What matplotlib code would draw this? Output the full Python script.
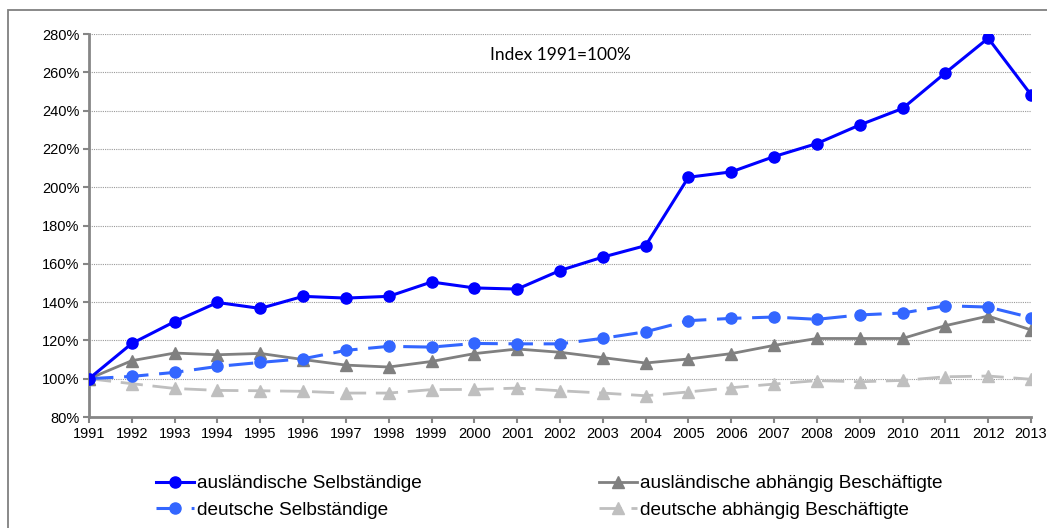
import matplotlib
matplotlib.use("Agg")
import matplotlib.pyplot as plt
from matplotlib.patches import Rectangle

plt.rcParams['font.family'] = ['Liberation Sans', 'DejaVu Sans']

jahre = list(range(1991, 2014))

ausl_selb = [100, 118.4, 129.8, 139.8, 136.7, 143.0, 142.1, 143.0, 150.5, 147.4, 146.8,
             156.5, 163.5, 169.5, 205.2, 208.0, 216.0, 222.8, 232.5, 241.1, 259.7, 277.8, 248.3]
dt_selb = [100, 101.2, 103.3, 106.4, 108.5, 110.4, 114.8, 116.9, 116.5, 118.4, 118.2,
           118.2, 121.1, 124.5, 130.3, 131.5, 132.2, 131.0, 133.3, 134.3, 138.1, 137.4, 131.9]
ausl_abh = [100, 109.4, 113.4, 112.5, 113.2, 110.0, 107.1, 106.1, 109.0, 113.1, 115.5,
            113.8, 111.0, 108.2, 110.3, 113.1, 117.4, 121.0, 121.0, 121.0, 127.7, 132.7, 125.5]
dt_abh = [100, 97.4, 94.9, 93.9, 93.7, 93.4, 92.5, 92.5, 94.3, 94.4, 95.1,
          93.7, 92.5, 91.1, 93.1, 95.3, 97.2, 99.0, 98.4, 99.1, 101.0, 101.4, 99.7]

y_ticks = list(range(80, 281, 20))

fig = plt.figure(figsize=(10.47, 5.28), dpi=100)
ax = fig.add_axes([89/1047, 1-417/528, (1031-89)/1047, (417-34)/528])

# rahmen um das diagramm (rechts und unten abgeschnitten)
fig.patches.append(Rectangle((8/1047, -0.1), 1.2, 1-10/528+0.1, transform=fig.transFigure,
                             fill=False, edgecolor='#808080', linewidth=1.3))

ax.plot(jahre, ausl_selb, color='#0000FF', lw=2.2, marker='o', ms=8,
        label='ausländische Selbständige', zorder=5)
ax.plot(jahre, dt_selb, color='#3366FF', lw=2.2, marker='o', ms=8, dashes=(8, 3.5),
        label='deutsche Selbständige', zorder=4)
ax.plot(jahre, ausl_abh, color='#808080', lw=2.0, marker='^', ms=8,
        label='ausländische abhängig Beschäftigte', zorder=3)
ax.plot(jahre, dt_abh, color='#BFBFBF', lw=2.0, marker='^', ms=8, dashes=(8, 3.5),
        label='deutsche abhängig Beschäftigte', zorder=2)

ax.set_xlim(1991, 2013)
ax.set_ylim(80, 280)
ax.set_xticks(jahre)
ax.set_xticklabels([str(j) for j in jahre])
ax.set_yticks(y_ticks)
ax.set_yticklabels([f'{v}%' for v in y_ticks])
ax.tick_params(labelsize=10.5, colors='#000000', length=4, width=1.5, pad=3)
ax.tick_params(axis='both', color='#868686')
ax.yaxis.grid(True, color='#9a9a9a', linestyle=(0, (1, 1)), linewidth=0.8)
ax.set_axisbelow(True)
for s in ['top', 'right']:
    ax.spines[s].set_visible(False)
for s in ['left', 'bottom']:
    ax.spines[s].set_color('#868686')
    ax.spines[s].set_linewidth(2)
    ax.spines[s].set_zorder(1)

ax.text(0.5, 0.945, 'Index 1991=100%', transform=ax.transAxes, ha='center', va='center',
        fontsize=12.5, family=['Lato', 'DejaVu Sans'])

fig.legend(loc='upper left', bbox_to_anchor=(156/1047, 1-475/528), ncol=2, frameon=False,
           fontsize=13.7, handlelength=2.0, handletextpad=0.15, columnspacing=9.3,
           labelspacing=0.5, borderpad=0, borderaxespad=0)

fig.savefig('out.png', dpi=100)
